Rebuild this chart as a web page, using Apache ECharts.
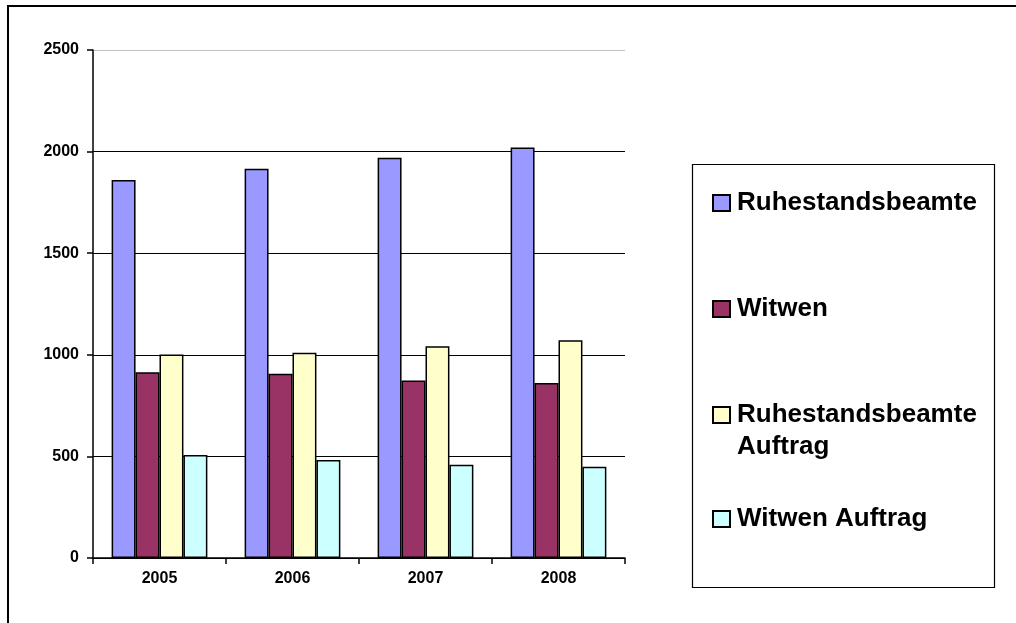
<!DOCTYPE html>
<html>
<head>
<meta charset="utf-8">
<script src="https://cdn.jsdelivr.net/npm/echarts@6/dist/echarts.min.js"></script>
<style>
  html, body { margin: 0; padding: 0; background: #fff; }
  #chart { width: 1016px; height: 623px; }
</style>
</head>
<body>
<div id="chart"></div>
<script>
// Years on the category axis
const years = ['2005', '2006', '2007', '2008'];

// Series names
const seriesNames = ['Ruhestandsbeamte', 'Witwen', 'Ruhestandsbeamte Auftrag', 'Witwen Auftrag'];

// Values per series
const ruhestandsbeamte = [1860, 1915, 1970, 2020];
const witwen = [914, 907, 874, 861];
const ruhestandsbeamteAuftrag = [1002, 1010, 1042, 1071];
const witwenAuftrag = [507, 482, 459, 449];

// Value axis range
const yMin = 0;
const yMax = 2500;
const yStep = 500;

const colors = ['#9999FF', '#993366', '#FFFFCC', '#CCFFFF'];
const seriesData = [ruhestandsbeamte, witwen, ruhestandsbeamteAuftrag, witwenAuftrag];

const FONT = "'Liberation Sans', Arial, sans-serif";

const chart = echarts.init(document.getElementById('chart'), null, { renderer: 'canvas' });

const legendText = {
  fontFamily: FONT,
  fontWeight: 'bold',
  fontSize: 26,
  color: '#000',
  lineHeight: 32,
  padding: [0, 0, 0, 2]
};

function legendFor(i, top, extra) {
  return Object.assign({
    data: [seriesNames[i]],
    left: 712,
    top: top,
    padding: 0,
    orient: 'vertical',
    icon: 'rect',
    itemWidth: 17,
    itemHeight: 16,
    itemGap: 0,
    selectedMode: false,
    textStyle: legendText
  }, extra || {});
}

chart.setOption({
  animation: false,
  backgroundColor: '#fff',
  grid: { left: 93, right: 391, top: 50, bottom: 65, containLabel: false },
  graphic: [
    // outer frame
    {
      type: 'rect', silent: true, z: 100,
      shape: { x: 8, y: 6, width: 1200, height: 800 },
      style: { fill: 'none', stroke: '#000', lineWidth: 2 }
    },
    // legend frame
    {
      type: 'rect', silent: true, z: 100,
      shape: { x: 692.5, y: 164.5, width: 302, height: 423 },
      style: { fill: 'none', stroke: '#000', lineWidth: 1.2 }
    }
  ],
  legend: [
    legendFor(0, 187),
    legendFor(1, 293),
    // two-line entry: a blank leading line keeps the marker beside the first line
    legendFor(2, 367, {
      formatter: name => '\n' + name.replace(' Auftrag', '\nAuftrag')
    }),
    legendFor(3, 503)
  ],
  xAxis: {
    type: 'category',
    data: years,
    axisLine: { lineStyle: { color: '#000', width: 1.5 } },
    axisTick: { show: true, length: 6, lineStyle: { color: '#000', width: 1.5 } },
    axisLabel: {
      margin: 13,
      fontFamily: FONT, fontWeight: 'bold', fontSize: 16, color: '#000'
    },
    splitLine: { show: false }
  },
  yAxis: {
    type: 'value',
    min: yMin,
    max: yMax,
    interval: yStep,
    axisLine: { show: true, lineStyle: { color: '#000', width: 1.5 } },
    axisTick: { show: true, length: 6, lineStyle: { color: '#000', width: 1.5 } },
    axisLabel: {
      margin: 14,
      formatter: v => String(v),
      fontFamily: FONT, fontWeight: 'bold', fontSize: 16, color: '#000'
    },
    splitLine: {
      show: true,
      lineStyle: { color: ['#000', '#000', '#000', '#000', '#000', '#c0c0c0'], width: 1 }
    }
  },
  series: seriesNames.map((name, i) => ({
    name: name,
    type: 'bar',
    data: seriesData[i],
    barGap: '0%',
    barCategoryGap: '28%',
    itemStyle: { color: colors[i], borderColor: '#000', borderWidth: 1.5 }
  }))
});
</script>
</body>
</html>
